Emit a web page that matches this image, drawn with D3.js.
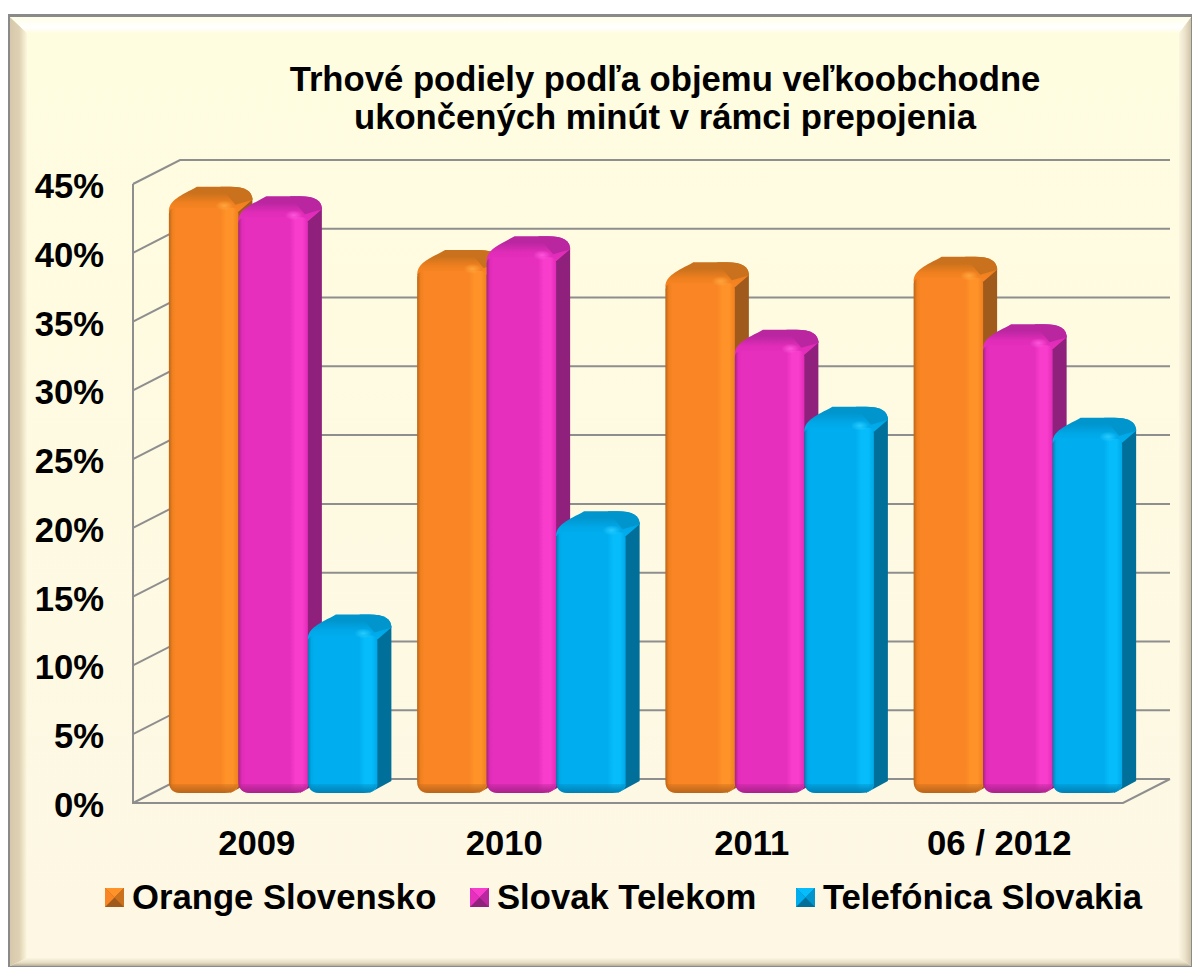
<!DOCTYPE html>
<html lang="en">
<head>
<meta charset="utf-8">
<title>Trhové podiely</title>
<script src="https://cdn.jsdelivr.net/npm/d3@7"></script>
<style>
  html, body { margin: 0; padding: 0; background: #fff; }
  svg { display: block; }
  text { font-family: "Liberation Sans", Arial, sans-serif; font-weight: bold; fill: #000; }
</style>
</head>
<body>
<script>
// data
var categories = ["2009", "2010", "2011", "06 / 2012"];
var seriesNames = ["Orange Slovensko", "Slovak Telekom", "Telefónica Slovakia"];
var orange = [42.7, 38.1, 37.2, 37.6];
var magenta = [42.0, 39.1, 32.3, 32.7];
var blue = [11.6, 19.1, 26.7, 25.9];
var yTicks = [0, 5, 10, 15, 20, 25, 30, 35, 40, 45];
var titleLines = ["Trhové podiely podľa objemu veľkoobchodne", "ukončených minút v rámci prepojenia"];

var seriesValues = [orange, magenta, blue];
var palette = [
  {front: "#f98524", dark: "#b9651a", light: "#ff9228", side: "#a05a1c", top: "#c9711d", cap: "#ffa63c", mid: "#f0801f"},
  {front: "#e62fbd", dark: "#a8228a", light: "#f83ccb", side: "#8f207c", top: "#b926a0", cap: "#ff55dc", mid: "#e02cb8"},
  {front: "#00aeef", dark: "#0080b4", light: "#06bcfb", side: "#006f99", top: "#0095cd", cap: "#25ccff", mid: "#00a8e8"}
];

var w = 1192, h = 967;
var fontSize = 34.67;
// front plane of the box, depth of the box, depth of the bars
var plot = {left: 133, right: 1123, top: 184, bottom: 803};
var depth = {x: 47, y: -24};
var barShift = {x: 16, y: -10};
var barDepth = {x: 14, y: -19};

var svg = d3.select("body").append("svg").attr("width", w).attr("height", h);
var defs = svg.append("defs");

// gradients
function hGrad(id, stops) {
  var g = defs.append("linearGradient").attr("id", id);
  stops.forEach(function(s) { g.append("stop").attr("offset", s[0]).attr("stop-color", s[1]).attr("stop-opacity", s[2] === undefined ? 1 : s[2]); });
}
function vGrad(id, stops) {
  var g = defs.append("linearGradient").attr("id", id).attr("x2", 0).attr("y2", 1);
  stops.forEach(function(s) { g.append("stop").attr("offset", s[0]).attr("stop-color", s[1]).attr("stop-opacity", s[2] === undefined ? 1 : s[2]); });
}
vGrad("panel", [[0, "#fffde0"], [1, "#fdf7e4"]]);
hGrad("bevelL", [[0, "#d6c8aa"], [0.55, "#dfd2b4"], [1, "#fdf8de"]]);
hGrad("bevelR", [[0, "#fbf5e0"], [0.5, "#ece2ca"], [1, "#cfc4a8"]]);
vGrad("bevelB", [[0, "#fbf5e0"], [0.6, "#e6dcc4"], [1, "#b8ae98"]]);
vGrad("bevelT", [[0, "#fffee8"], [0.65, "#ffffff"], [1, "#fffde2"]]);
palette.forEach(function(p, i) {
  hGrad("face" + i, [[0, p.dark], [0.05, p.mid], [0.1, p.front], [0.74, p.front], [0.82, p.light], [0.92, p.light], [1, p.mid]]);
  vGrad("top" + i, [[0, p.top], [0.25, p.top], [0.65, p.mid], [1, p.front]]);
  vGrad("footShade" + i, [[0, p.dark, 0], [1, p.dark, 1]]);
  var rg = defs.append("radialGradient").attr("id", "glint" + i);
  rg.append("stop").attr("offset", 0).attr("stop-color", p.cap);
  rg.append("stop").attr("offset", 1).attr("stop-color", p.cap).attr("stop-opacity", 0);
});

// frame
var frame = {x0: 10, x1: 1191, y0: 17, y1: 966, ix0: 27, ix1: 1179, iy0: 33, iy1: 958};
svg.append("rect").attr("x", 8).attr("y", 14).attr("width", 1184).attr("height", 953).attr("fill", "#8a8a8a");
svg.append("rect").attr("x", frame.x0).attr("y", frame.y0).attr("width", frame.x1 - frame.x0).attr("height", frame.y1 - frame.y0).attr("fill", "url(#panel)");
function bevel(pts, fill) {
  svg.append("path").attr("d", d3.line()(pts) + "Z").attr("fill", fill);
}
bevel([[frame.x0, frame.y0], [frame.ix0, frame.iy0], [frame.ix0, frame.iy1], [frame.x0, frame.y1]], "url(#bevelL)");
bevel([[frame.x1, frame.y0], [frame.ix1, frame.iy0], [frame.ix1, frame.iy1], [frame.x1, frame.y1]], "url(#bevelR)");
bevel([[frame.x0, frame.y1], [frame.ix0, frame.iy1], [frame.ix1, frame.iy1], [frame.x1, frame.y1]], "url(#bevelB)");
bevel([[frame.x0, frame.y0], [frame.ix0, frame.iy0], [frame.ix1, frame.iy0], [frame.x1, frame.y0]], "url(#bevelT)");

// title
svg.selectAll(".title").data(titleLines).enter().append("text")
  .attr("class", "title")
  .attr("x", 665)
  .attr("y", function(d, i) { return 91 + i * 38; })
  .attr("text-anchor", "middle")
  .attr("font-size", fontSize)
  .text(function(d) { return d; });

// scales
var y = d3.scaleLinear().domain([0, 45]).range([plot.bottom, plot.top]);
var yBar = function(v) { return y(v) + barShift.y; };
var x0 = d3.scaleBand().domain(categories)
  .range([plot.left + barShift.x, plot.right + barShift.x + 3])
  .paddingInner(0.16).paddingOuter(0.08);
var x1 = d3.scaleBand().domain(d3.range(seriesNames.length)).range([0, x0.bandwidth()]);

// walls and gridlines
var grid = svg.append("g").attr("fill", "none").attr("stroke", "#8e8e8e").attr("stroke-width", 2);
yTicks.forEach(function(t) {
  grid.append("path").attr("d", d3.line()([
    [plot.left, y(t)],
    [plot.left + depth.x, y(t) + depth.y],
    [plot.right + depth.x, y(t) + depth.y]
  ]));
});
grid.append("path").attr("d", d3.line()([
  [plot.left, plot.top], [plot.left, plot.bottom], [plot.right, plot.bottom], [plot.right + depth.x, plot.bottom + depth.y]
]));

// axes
var yAxis = d3.axisLeft(y).tickValues(yTicks).tickSize(0).tickPadding(29).tickFormat(function(d) { return d + "%"; });
var yG = svg.append("g").attr("transform", "translate(" + plot.left + ",1)").call(yAxis);
yG.select(".domain").remove();
yG.selectAll("text").attr("font-size", fontSize).attr("font-family", null).attr("dy", "0.36em");

var xAxis = d3.axisBottom(d3.scaleBand().domain(categories).range([plot.left, plot.right])).tickSize(0).tickPadding(27);
var xG = svg.append("g").attr("transform", "translate(0," + plot.bottom + ")").call(xAxis);
xG.select(".domain").remove();
xG.selectAll("text").attr("font-size", fontSize).attr("font-family", null).attr("dy", "0.71em");

// bars
var groups = svg.selectAll(".cat").data(categories).enter().append("g").attr("class", "cat");
groups.each(function(cat, ci) {
  var g = d3.select(this);
  seriesValues.forEach(function(vals, si) {
    var p = palette[si];
    var bw = x1.bandwidth();
    var bx = x0(cat) + x1(si);
    var rx = bx + bw;                 // right edge of the front face
    var bk = rx + barDepth.x;         // right edge of the side face
    var t = yBar(vals[ci]);
    var tk = t + barDepth.y;          // back edge of the top
    var bot = yBar(0);
    var r = 12;
    // side
    g.append("path")
      .attr("d", "M" + (rx - 8) + "," + (t - 2) + "L" + bk + "," + (t - 8)
        + "L" + bk + "," + (bot - 12)
        + "L" + (rx - 8) + "," + bot + "Z")
      .attr("fill", p.side);
    // top, rounded at both shoulders
    g.append("path")
      .attr("d", "M" + bx + "," + (t + 6)
        + "C" + bx + "," + (t - 6) + " " + (bx + 12) + "," + (t - 10) + " " + (bx + 28) + "," + tk
        + "L" + (rx - 8) + "," + tk
        + "Q" + bk + "," + tk + " " + bk + "," + (t - 6)
        + "L" + rx + "," + (t + 6) + "Z")
      .attr("fill", "url(#top" + si + ")");
    // darker patch on the back right of the top
    g.append("path")
      .attr("d", "M" + (rx - 18) + "," + tk
        + "L" + (rx - 8) + "," + tk
        + "Q" + bk + "," + tk + " " + bk + "," + (t - 6)
        + "L" + (rx - 3) + "," + (t - 1) + "Z")
      .attr("fill", p.top);
    // front
    g.append("path")
      .attr("d", "M" + bx + "," + (t + 8)
        + "Q" + bx + "," + (t + 3) + " " + (bx + 6) + "," + (t + 2)
        + "L" + (rx - 5) + "," + (t + 2)
        + "Q" + rx + "," + (t + 3) + " " + rx + "," + (t + 8)
        + "L" + rx + "," + (bot - r + 5)
        + "Q" + (rx - 2) + "," + bot + " " + (rx - 14) + "," + bot
        + "L" + (bx + r) + "," + bot
        + "Q" + bx + "," + bot + " " + bx + "," + (bot - r) + "Z")
      .attr("fill", "url(#face" + si + ")");
    // glint at the corner, dark on the foot
    g.append("ellipse").attr("cx", rx - 14).attr("cy", t).attr("rx", 9).attr("ry", 5).attr("fill", "url(#glint" + si + ")");
    g.append("path")
      .attr("d", "M" + bx + "," + (bot - 9) + "L" + rx + "," + (bot - 9)
        + "Q" + (rx - 2) + "," + bot + " " + (rx - 14) + "," + bot
        + "L" + (bx + r) + "," + bot
        + "Q" + bx + "," + bot + " " + bx + "," + (bot - r) + "Z")
      .attr("fill", "url(#footShade" + si + ")");
  });
});

// legend
var legendX = [105, 470, 796];
var lg = svg.selectAll(".leg").data(seriesNames).enter().append("g").attr("class", "leg")
  .attr("transform", function(d, i) { return "translate(" + legendX[i] + ",888)"; });
lg.each(function(d, i) {
  var g = d3.select(this), p = palette[i], s = 19;
  g.append("rect").attr("width", s).attr("height", s).attr("fill", p.side);
  g.append("path").attr("d", d3.line()([[0, 0], [s, 0], [s / 2, s / 2]]) + "Z").attr("fill", p.light);
  g.append("path").attr("d", d3.line()([[s, 0], [s, s], [s / 2, s / 2]]) + "Z").attr("fill", p.top);
  g.append("path").attr("d", d3.line()([[0, 0], [0, s], [s / 2, s / 2]]) + "Z").attr("fill", p.front);
  g.append("text").attr("x", 27).attr("y", 21).attr("font-size", fontSize).text(d);
});
</script>
</body>
</html>
